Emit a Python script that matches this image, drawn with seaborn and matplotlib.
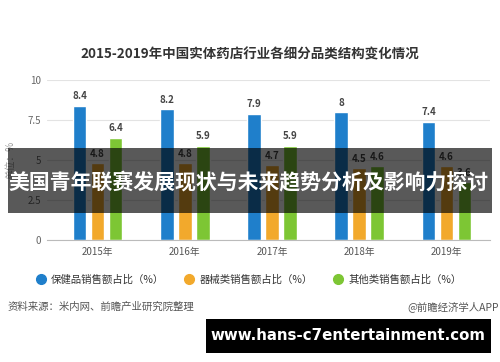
import numpy as np
import pandas as pd
import matplotlib
matplotlib.use('Agg')
import matplotlib.pyplot as plt
from matplotlib.patches import Rectangle
from matplotlib.lines import Line2D
import seaborn as sns

years = ['2015年', '2016年', '2017年', '2018年', '2019年']
series = ['保健品销售额占比（%）', '器械类销售额占比（%）', '其他类销售额占比（%）']
health = [8.4, 8.2, 7.9, 8, 7.4]
device = [4.8, 4.8, 4.7, 4.5, 4.6]
other = [6.4, 5.9, 5.9, 4.6, 3.6]
colors = ['#1f7fcb', '#f2a92c', '#7dc634']

df = pd.DataFrame({
    'year': years * 3,
    'series': [series[0]] * 5 + [series[1]] * 5 + [series[2]] * 5,
    'value': health + device + other,
})

sns.set_style('white')
plt.rcParams['font.family'] = ['Noto Sans CJK SC', 'DejaVu Sans']

fig = plt.figure(figsize=(5, 3.62), dpi=100)
ax = fig.add_axes([0.094, 0.337, 0.886, 0.442])

sns.barplot(data=df, x='year', y='value', hue='series', palette=colors,
            width=0.62, gap=0.25, legend=False, ax=ax, saturation=1)

for c in ax.containers:
    ax.bar_label(c, fmt='%g', padding=3, fontsize=7, fontweight='bold', color='#444444')

ax.set_ylim(0, 10)
ax.set_xlim(-0.58, 4.5)
ax.set_yticks([0, 2.5, 5, 7.5, 10], ['0', '2.5', '5', '7.5', '10'])
ax.tick_params(axis='y', length=0, labelsize=7, labelcolor='#666666', pad=4)
ax.tick_params(axis='x', length=3, color='#bbbbbb', labelsize=7, labelcolor='#555555', pad=2)
ax.grid(axis='y', color='#e3e3e3', lw=0.8)
ax.set_axisbelow(True)
for s in ['top', 'right', 'left']:
    ax.spines[s].set_visible(False)
ax.spines['bottom'].set_color('#bbbbbb')
ax.set_xlabel('')
ax.set_ylabel('单位：%', fontsize=7, color='#999999', labelpad=9)

# title
fig.text(0.5, 1 - 55 / 362, '2015-2019年中国实体药店行业各细分品类结构变化情况',
         ha='center', va='center', fontsize=9.7, fontweight='bold', color='#333333')

# legend with round markers
handles = [Line2D([], [], marker='o', ls='', markersize=7, color=c) for c in colors]
fig.legend(handles, series, loc='center', bbox_to_anchor=(0.497, 1 - 280 / 362), ncol=3,
           frameon=False, fontsize=7.5, labelcolor='#333333', handletextpad=0.5,
           columnspacing=1.9, handlelength=1)

# source lines
fig.text(0.016, 1 - 307 / 362, '资料来源：米内网、前瞻产业研究院整理', ha='left', va='center',
         fontsize=7.5, color='#555555')
fig.text(0.998, 1 - 307 / 362, '@前瞻经济学人APP', ha='right', va='center',
         fontsize=7.5, color='#555555')

# dark banner over the chart
fig.add_artist(Rectangle((8 / 500, 1 - 213 / 362), 484 / 500, 65 / 362,
                         transform=fig.transFigure, color='black', alpha=0.65,
                         lw=0, zorder=10))
fig.text(0.017, 1 - 183 / 362, '美国青年联赛发展现状与未来趋势分析及影响力探讨',
         ha='left', va='center', fontsize=15, fontweight='bold', color='white', zorder=11)

# url box
fig.add_artist(Rectangle((206 / 500, 1 - 353 / 362), 285 / 500, 34 / 362,
                         transform=fig.transFigure, color='black', lw=0, zorder=10))
fig.text(348 / 500, 1 - 336 / 362, 'www.hans-c7entertainment.com', ha='center', va='center',
         fontsize=10.8, fontweight='bold', color='white', zorder=11,
         family=['DejaVu Sans'])

fig.savefig('out.png', dpi=100, facecolor='white')
